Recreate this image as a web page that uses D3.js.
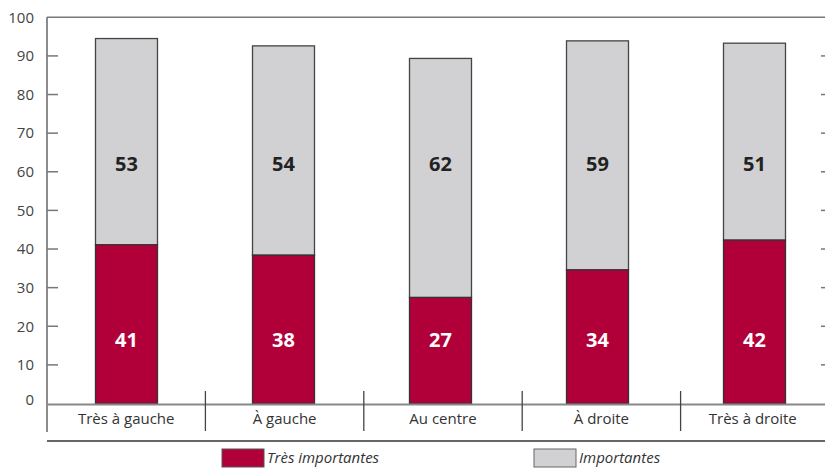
<!DOCTYPE html>
<html>
<head>
<meta charset="utf-8">
<script src="https://cdn.jsdelivr.net/npm/d3@7"></script>
<style>
  body { margin: 0; background: #fff; }
  svg { display: block; font-family: "Open Sans", "Noto Sans", sans-serif; }
</style>
</head>
<body>
<div class="chart"></div>
<script>
// data (printed labels)
const categories = ['Très à gauche', 'À gauche', 'Au centre', 'À droite', 'Très à droite'];
const tresImportantes = [41, 38, 27, 34, 42];
const importantes = [53, 54, 62, 59, 51];
// segment heights as drawn (unrounded)
const tresImportantesH = [41.1, 38.4, 27.45, 34.6, 42.3];
const importantesH = [53.4, 54.2, 61.9, 59.3, 51.0];
const seriesNames = ['Très importantes', 'Importantes'];
const yTicks = [0, 10, 20, 30, 40, 50, 60, 70, 80, 90, 100];

const width = 825, height = 472;
const red = '#b10039', grey = '#d1d1d3';

const svg = d3.select('.chart').append('svg')
  .attr('width', width)
  .attr('height', height);

const y = d3.scaleLinear().domain([0, 100]).range([403.5, 17.3]);
// category bands (dividers & labels)
const x = d3.scaleBand().domain(categories).range([47, 839]);
// bar placement
const xb = d3.scaleBand().domain(categories).range([48, 833]);
const barW = 62;

// top line
svg.append('line')
  .attr('x1', 47).attr('x2', width).attr('y1', y(100)).attr('y2', y(100))
  .attr('stroke', '#777').attr('stroke-width', 1.5);

// left axis line
svg.append('line')
  .attr('x1', 47).attr('x2', 47).attr('y1', y(100)).attr('y2', 432)
  .attr('stroke', '#666').attr('stroke-width', 1.5);

// ticks left and right
const inner = yTicks.filter(d => d > 0 && d < 100);
svg.append('g').selectAll('line').data(inner).enter().append('line')
  .attr('x1', 47).attr('x2', 58).attr('y1', d => y(d)).attr('y2', d => y(d))
  .attr('stroke', '#777').attr('stroke-width', 1.5);
svg.append('g').selectAll('line').data(inner).enter().append('line')
  .attr('x1', 821).attr('x2', 833).attr('y1', d => y(d)).attr('y2', d => y(d))
  .attr('stroke', '#777').attr('stroke-width', 1.5);

// tick labels
svg.append('g').selectAll('text').data(yTicks).enter().append('text')
  .attr('x', 34)
  .attr('y', d => d === 0 ? y(d) - 4 : y(d))
  .attr('dy', '0.35em')
  .attr('text-anchor', 'end')
  .attr('font-size', 15)
  .attr('fill', '#444')
  .text(d => d);

// bars
const bars = svg.append('g').selectAll('g').data(categories).enter().append('g');
bars.append('rect')
  .attr('x', d => xb(d) + xb.bandwidth() / 2 - barW / 2)
  .attr('y', (d, i) => y(tresImportantesH[i] + importantesH[i]))
  .attr('width', barW)
  .attr('height', (d, i) => y(tresImportantesH[i]) - y(tresImportantesH[i] + importantesH[i]))
  .attr('fill', grey)
  .attr('stroke', '#444').attr('stroke-width', 1.3);
bars.append('rect')
  .attr('x', d => xb(d) + xb.bandwidth() / 2 - barW / 2)
  .attr('y', (d, i) => y(tresImportantesH[i]))
  .attr('width', barW)
  .attr('height', (d, i) => y(0) - y(tresImportantesH[i]))
  .attr('fill', red)
  .attr('stroke', '#333').attr('stroke-width', 1.3);

// value labels
bars.append('text')
  .attr('x', d => xb(d) + xb.bandwidth() / 2)
  .attr('y', y(62))
  .attr('dy', '0.35em')
  .attr('text-anchor', 'middle')
  .attr('font-size', 20).attr('font-weight', 'bold')
  .attr('fill', '#222')
  .text((d, i) => importantes[i]);
bars.append('text')
  .attr('x', d => xb(d) + xb.bandwidth() / 2)
  .attr('y', y(16.5))
  .attr('dy', '0.35em')
  .attr('text-anchor', 'middle')
  .attr('font-size', 20).attr('font-weight', 'bold')
  .attr('fill', '#fff')
  .text((d, i) => tresImportantes[i]);

// baseline
svg.append('line')
  .attr('x1', 47).attr('x2', width).attr('y1', y(0) + 1).attr('y2', y(0) + 1)
  .attr('stroke', '#888').attr('stroke-width', 2);

// category dividers
svg.append('g').selectAll('line').data(categories.slice(1)).enter().append('line')
  .attr('x1', d => x(d)).attr('x2', d => x(d))
  .attr('y1', 391).attr('y2', 431)
  .attr('stroke', '#444').attr('stroke-width', 1.3);

// category labels
svg.append('g').selectAll('text').data(categories).enter().append('text')
  .attr('x', d => x(d) + x.bandwidth() / 2 - (d === categories[4] ? 7 : 0))
  .attr('y', 424)
  .attr('text-anchor', 'middle')
  .attr('font-size', 15)
  .attr('fill', '#333')
  .text(d => d);

// legend box
svg.append('line')
  .attr('x1', 47).attr('x2', width).attr('y1', 441).attr('y2', 441)
  .attr('stroke', '#333').attr('stroke-width', 1.5);

const legend = svg.append('g').selectAll('g').data(seriesNames).enter().append('g')
  .attr('transform', (d, i) => `translate(${i === 0 ? 222 : 534},449)`);
legend.append('rect')
  .attr('width', 42).attr('height', 18)
  .attr('fill', (d, i) => i === 0 ? red : grey)
  .attr('stroke', (d, i) => i === 0 ? '#555' : '#666').attr('stroke-width', 1);
legend.append('text')
  .attr('x', 45).attr('y', 9).attr('dy', '0.35em')
  .attr('font-size', 15).attr('font-style', 'italic')
  .attr('fill', '#333')
  .text(d => d);
</script>
</body>
</html>
